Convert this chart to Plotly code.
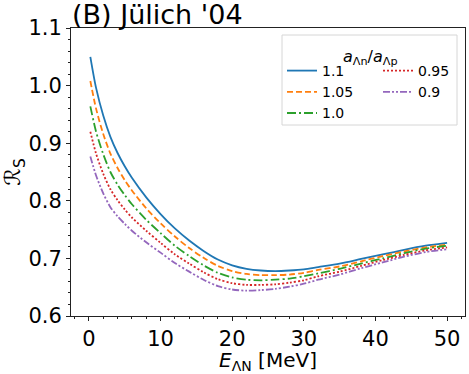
import plotly.graph_objects as go

# energy grid [MeV] and R_S curves
energy = [0.2, 1, 2, 3, 4, 5, 6, 8, 10, 12, 14, 16, 18, 20, 22, 24, 26,
          28, 30, 32, 35, 38, 41, 44, 47, 50]

rs_110 = [1.050, 0.996, 0.948, 0.911, 0.883, 0.860, 0.840, 0.806, 0.777, 0.752,
          0.731, 0.713, 0.698, 0.688, 0.682, 0.679, 0.678, 0.679, 0.681, 0.685,
          0.691, 0.699, 0.707, 0.715, 0.722, 0.727]
rs_105 = [1.008, 0.960, 0.916, 0.882, 0.857, 0.836, 0.818, 0.787, 0.761, 0.738,
          0.718, 0.701, 0.687, 0.678, 0.673, 0.671, 0.671, 0.672, 0.675, 0.680,
          0.686, 0.695, 0.704, 0.712, 0.719, 0.724]
rs_100 = [0.964, 0.920, 0.881, 0.850, 0.828, 0.810, 0.794, 0.767, 0.744, 0.722,
          0.704, 0.688, 0.675, 0.667, 0.663, 0.662, 0.663, 0.665, 0.669, 0.674,
          0.682, 0.691, 0.700, 0.709, 0.717, 0.722]
rs_095 = [0.920, 0.882, 0.847, 0.820, 0.801, 0.785, 0.771, 0.748, 0.727, 0.707,
          0.691, 0.676, 0.664, 0.657, 0.654, 0.654, 0.655, 0.658, 0.662, 0.669,
          0.677, 0.687, 0.697, 0.706, 0.714, 0.719]
rs_090 = [0.877, 0.844, 0.813, 0.789, 0.773, 0.760, 0.748, 0.728, 0.710, 0.692,
          0.677, 0.663, 0.652, 0.646, 0.644, 0.645, 0.647, 0.651, 0.656, 0.663,
          0.672, 0.683, 0.693, 0.703, 0.711, 0.716]

labels = ["1.1", "1.05", "1.0", "0.95", "0.9"]
series = [rs_110, rs_105, rs_100, rs_095, rs_090]
colors = ["#1f77b4", "#ff7f0e", "#2ca02c", "#d62728", "#9467bd"]
dashes = ["solid", "6px,3px", "9px,3px,2px,3px", "2px,2px", "7px,2px,2px,2px,2px,2px"]
legends = ["legend", "legend", "legend", "legend2", "legend2"]

W, H = 469, 374
L, R, T, B = 71, 4, 28, 58
pw, ph = W - L - R, H - T - B


def px_x(x):
    return (x - L) / pw


def px_y(y):
    return (H - B - y) / ph


fig = go.Figure()
for lab, ys, col, dash, lg in zip(labels, series, colors, dashes, legends):
    fig.add_trace(go.Scatter(
        x=energy, y=ys, mode="lines", name=lab,
        line=dict(color=col, width=1.8, dash=dash, shape="spline", smoothing=0.8),
        legend=lg,
    ))

axis_common = dict(
    showline=True, linecolor="#222", linewidth=1, mirror=True, automargin=False,
    ticks="outside", ticklen=4, tickcolor="#222", showgrid=False, zeroline=False,
    tickfont=dict(family="DejaVu Sans", size=21, color="black"),
)

fig.update_layout(
    width=W, height=H,
    margin=dict(l=L, r=R, t=T, b=B),
    plot_bgcolor="white", paper_bgcolor="white",
    font=dict(family="DejaVu Sans", color="black"),
    title=dict(text="(B) Jülich '04", x=px_x(72), xref="paper", xanchor="left",
               y=0.962, yanchor="middle", font=dict(size=27, color="black")),
    xaxis=dict(range=[-2.5, 52.5], dtick=10,
               minor=dict(dtick=2, ticks="outside", ticklen=2, tickcolor="#222"),
               title=dict(text="<i>E</i><sub>ΛN</sub> [MeV]", font=dict(size=20), standoff=7),
               **axis_common),
    yaxis=dict(range=[0.6, 1.1], dtick=0.1, tickformat=".1f",
               minor=dict(dtick=0.02, ticks="outside", ticklen=2, tickcolor="#222"),
               title=dict(text="ℛ<sub>S</sub>", font=dict(size=22), standoff=6),
               **axis_common),
    legend=dict(x=px_x(282), y=px_y(55), xanchor="left", yanchor="top",
                bgcolor="rgba(0,0,0,0)", font=dict(size=14), itemwidth=30,
                tracegroupgap=0),
    legend2=dict(x=px_x(378), y=px_y(55), xanchor="left", yanchor="top",
                 bgcolor="rgba(0,0,0,0)", font=dict(size=14), itemwidth=30,
                 tracegroupgap=0),
    shapes=[dict(type="rect", xref="paper", yref="paper",
                 x0=px_x(282), x1=px_x(457), y0=px_y(125), y1=px_y(35),
                 line=dict(color="#d6d6d6", width=1), fillcolor="rgba(255,255,255,0.8)",
                 layer="below")],
    annotations=[dict(text="<i>a</i><sub>Λn</sub>/<i>a</i><sub>Λp</sub>",
                      xref="paper", yref="paper", x=px_x(370), y=px_y(58),
                      xanchor="center", yanchor="middle", showarrow=False,
                      font=dict(size=16))],
)

# drop the page's default 8px body margin so the figure sits at the window corner
fig.write_html("out.html", config={"displayModeBar": False},
               post_script="document.body.style.margin='0';")
